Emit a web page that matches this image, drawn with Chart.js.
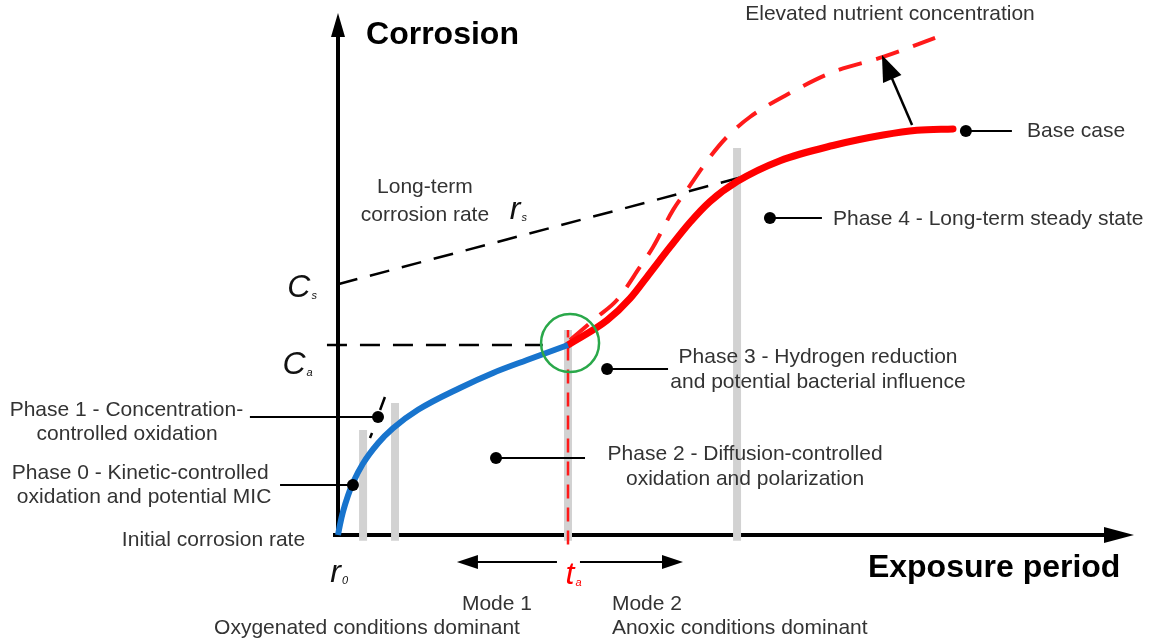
<!DOCTYPE html>
<html>
<head>
<meta charset="utf-8">
<script src="https://cdn.jsdelivr.net/npm/chart.js@4.4.1/dist/chart.umd.min.js"></script>
<style>
  body { margin: 0; background: #fff; }
  #wrap { width: 1152px; height: 638px; }
</style>
</head>
<body>
<div id="wrap"><canvas id="corrosion_chart"></canvas></div>
<script>
// exposure time (t) and corrosion (C), origin at r0, t_a = 10, C_a = 10
const blueT = [0, 0.087, 0.217, 0.435, 0.652, 1.087, 1.74, 2.39, 3.48, 5.3, 6.74, 8.22, 10];
const blueC = [0, 0.55, 1.22, 2.08, 2.75, 3.76, 4.83, 5.62, 6.59, 7.74, 8.53, 9.21, 10];

const baseT = [10, 11.7, 12.7, 13.57, 14.43, 15.3, 16.17, 17.35, 19.22, 21.52, 23.7, 25.17, 26.74];
const baseC = [10, 11.3, 12.45, 13.8, 15.15, 16.45, 17.55, 18.6, 19.7, 20.5, 21.05, 21.3, 21.37];

const elevT = [10.09, 11.26, 12.13, 13.13, 13.7, 14.57, 15.17, 16.17, 16.91, 17.91, 19.65, 21.52, 23.7, 25.96];
const elevC = [10.26, 11.47, 12.37, 14.11, 15.16, 17.11, 18.16, 19.89, 20.95, 22.0, 23.26, 24.37, 25.16, 26.16];

const longTermT = [0, 17.45];
const longTermC = [13.2, 18.8];

const tA = 10;
const cA = 10;
const caLineT = [-0.48, 8.9];

// phase boundaries (grey bars) and their heights
const phaseBounds = [1.09, 2.48, 10, 17.35];
const phaseTops = [5.53, 6.95, 10.79, 20.37];

const toPts = (ts, cs) => ts.map((t, i) => ({x: t, y: cs[i]}));

const datasets = [];
phaseBounds.forEach((t, i) => {
    datasets.push({data: [{x: t, y: -0.3}, {x: t, y: phaseTops[i]}], borderColor: '#d2d2d2', borderWidth: 8, order: 10});
});
datasets.push({data: [{x: tA, y: -0.5}, {x: tA, y: phaseTops[2]}], borderColor: '#ff1a1a', borderWidth: 2.5, borderDash: [14, 9], order: 9});
datasets.push({data: toPts(caLineT, [cA, cA]), borderColor: '#000', borderWidth: 2.5, borderDash: [20, 13], order: 5});
datasets.push({data: toPts(longTermT, longTermC), borderColor: '#000', borderWidth: 2.5, borderDash: [20, 13], order: 5});
datasets.push({data: toPts(elevT, elevC), borderColor: '#ff1a1a', borderWidth: 4, borderDash: [24, 15], cubicInterpolationMode: 'monotone', order: 3});
datasets.push({data: toPts(baseT, baseC), borderColor: '#ff0000', borderWidth: 7, borderCapStyle: 'round', cubicInterpolationMode: 'monotone', order: 2});
datasets.push({data: toPts(blueT, blueC), borderColor: '#1874cd', borderWidth: 6, cubicInterpolationMode: 'monotone', order: 1});
datasets.forEach(d => { d.showLine = true; d.pointRadius = 0; d.fill = false; });

// labels: [text, t, C, align, font, colour]
const font = '"Liberation Sans", Arial, sans-serif';
const labels = [
    ['Corrosion', 1.22, 26.32, 'left', 'bold 32px', '#000'],
    ['Exposure period', 23.04, -1.74, 'left', 'bold 32px', '#000'],
    ['Elevated nutrient concentration', 24.0, 27.42, 'center', '21px', '#333'],
    ['Base case', 29.96, 21.26, 'left', '21px', '#333'],
    ['Long-term', 3.78, 18.32, 'center', '21px', '#333'],
    ['corrosion rate', 3.78, 16.84, 'center', '21px', '#333'],
    ['Phase 4 - Long-term steady state', 21.52, 16.63, 'left', '21px', '#333'],
    ['Phase 3 - Hydrogen reduction', 20.87, 9.37, 'center', '21px', '#333'],
    ['and potential bacterial influence', 20.87, 8.05, 'center', '21px', '#333'],
    ['Phase 2 - Diffusion-controlled', 17.7, 4.26, 'center', '21px', '#333'],
    ['oxidation and polarization', 17.7, 2.95, 'center', '21px', '#333'],
    ['Phase 1 - Concentration-', -9.2, 6.58, 'center', '21px', '#333'],
    ['controlled oxidation', -9.17, 5.32, 'center', '21px', '#333'],
    ['Phase 0 - Kinetic-controlled', -8.6, 3.26, 'center', '21px', '#333'],
    ['oxidation and potential MIC', -8.43, 2.0, 'center', '21px', '#333'],
    ['Initial corrosion rate', -1.43, -0.26, 'right', '21px', '#333'],
    ['Mode 1', 6.91, -3.63, 'center', '21px', '#333'],
    ['Oxygenated conditions dominant', 1.26, -4.89, 'center', '21px', '#333'],
    ['Mode 2', 11.91, -3.63, 'left', '21px', '#333'],
    ['Anoxic conditions dominant', 11.91, -4.89, 'left', '21px', '#333']
];
// italic symbols with subscripts: [main, sub, t, C, colour]
const symbols = [
    ['C', 's', -1.7, 13.0, '#111'],
    ['C', 'a', -1.91, 8.95, '#111'],
    ['r', 's', 7.7, 17.1, '#111'],
    ['r', '0', -0.1, -2.0, '#111'],
    ['t', 'a', 10.09, -2.1, '#ff0000']
];
// leader lines: [dot t, dot C, end t]
const leaders = [
    [0.65, 2.63, -2.52],
    [1.74, 6.21, -3.83],
    [6.87, 4.05, 10.74],
    [11.7, 8.74, 14.35],
    [18.78, 16.68, 21.04],
    [27.3, 21.26, 29.3]
];

function arrowHead(ctx, x1, y1, x2, y2, len, half) {
    const a = Math.atan2(y2 - y1, x2 - x1);
    ctx.beginPath();
    ctx.moveTo(x2, y2);
    ctx.lineTo(x2 - len * Math.cos(a) + half * Math.sin(a), y2 - len * Math.sin(a) - half * Math.cos(a));
    ctx.lineTo(x2 - len * Math.cos(a) - half * Math.sin(a), y2 - len * Math.sin(a) + half * Math.cos(a));
    ctx.closePath();
    ctx.fill();
}
function arrow(ctx, x1, y1, x2, y2, w, len, half) {
    const a = Math.atan2(y2 - y1, x2 - x1);
    ctx.lineWidth = w;
    ctx.beginPath();
    ctx.moveTo(x1, y1);
    ctx.lineTo(x2 - len * 0.8 * Math.cos(a), y2 - len * 0.8 * Math.sin(a));
    ctx.stroke();
    arrowHead(ctx, x1, y1, x2, y2, len, half);
}

const axesPlugin = {
    id: 'axesPlugin',
    beforeDatasetsDraw(chart) {
        const ctx = chart.ctx, xs = chart.scales.x, ys = chart.scales.y;
        const ox = xs.getPixelForValue(0), oy = ys.getPixelForValue(0);
        ctx.save();
        ctx.strokeStyle = '#000';
        ctx.fillStyle = '#000';
        arrow(ctx, ox, oy + 2, ox, 13, 4, 24, 7);
        arrow(ctx, ox - 5, oy, 1134, oy, 4, 30, 8);
        ctx.restore();
    }
};

const notesPlugin = {
    id: 'notesPlugin',
    afterDatasetsDraw(chart) {
        const ctx = chart.ctx, xs = chart.scales.x, ys = chart.scales.y;
        const px = t => xs.getPixelForValue(t), py = c => ys.getPixelForValue(c);
        ctx.save();
        // green circle at the transition point
        ctx.strokeStyle = '#2aa84a';
        ctx.lineWidth = 2.5;
        ctx.beginPath();
        ctx.arc(px(10.09), py(10.1), 29, 0, Math.PI * 2);
        ctx.stroke();

        // leader lines with dots
        ctx.strokeStyle = '#000';
        ctx.fillStyle = '#000';
        leaders.forEach(l => {
            ctx.lineWidth = 2;
            ctx.beginPath();
            ctx.moveTo(px(l[0]), py(l[1]));
            ctx.lineTo(px(l[2]), py(l[1]));
            ctx.stroke();
            ctx.beginPath();
            ctx.arc(px(l[0]), py(l[1]), 6, 0, Math.PI * 2);
            ctx.fill();
        });
        // small tick marks near phase 1
        ctx.lineWidth = 2.5;
        ctx.beginPath();
        ctx.moveTo(px(1.83), py(6.58)); ctx.lineTo(px(2.04), py(7.26));
        ctx.moveTo(px(1.39), py(5.11)); ctx.lineTo(px(1.48), py(5.37));
        ctx.stroke();

        // arrow base case -> elevated
        arrow(ctx, px(24.96), py(21.58), px(23.65), py(25.26), 2.5, 26, 10);
        // mode arrows
        arrow(ctx, px(9.52), py(-1.42), px(5.17), py(-1.42), 2, 21, 7);
        arrow(ctx, px(10.52), py(-1.42), px(15.0), py(-1.42), 2, 21, 7);

        // text labels
        ctx.textBaseline = 'middle';
        labels.forEach(l => {
            ctx.font = l[4] + ' ' + font;
            ctx.fillStyle = l[5];
            ctx.textAlign = l[3];
            ctx.fillText(l[0], px(l[1]), py(l[2]));
        });
        // italic symbols
        symbols.forEach(s => {
            ctx.font = 'italic 32px ' + font;
            ctx.fillStyle = s[4];
            ctx.textAlign = 'center';
            const w = ctx.measureText(s[0]).width;
            ctx.fillText(s[0], px(s[2]), py(s[3]));
            ctx.font = 'italic 11px ' + font;
            ctx.textAlign = 'left';
            ctx.fillText(s[1], px(s[2]) + w / 2 + 1, py(s[3]) + 8);
        });
        ctx.restore();
    }
};

new Chart(document.getElementById('corrosion_chart'), {
    type: 'scatter',
    data: { datasets: datasets },
    options: {
        responsive: true,
        maintainAspectRatio: false,
        animation: false,
        layout: { padding: 0 },
        plugins: { legend: { display: false }, tooltip: { enabled: false } },
        scales: {
            x: { type: 'linear', display: false, min: -338 / 23, max: (1152 - 338) / 23 },
            y: { type: 'linear', display: false, min: -(638 - 535) / 19, max: 535 / 19 }
        }
    },
    plugins: [axesPlugin, notesPlugin]
});
</script>
</body>
</html>
